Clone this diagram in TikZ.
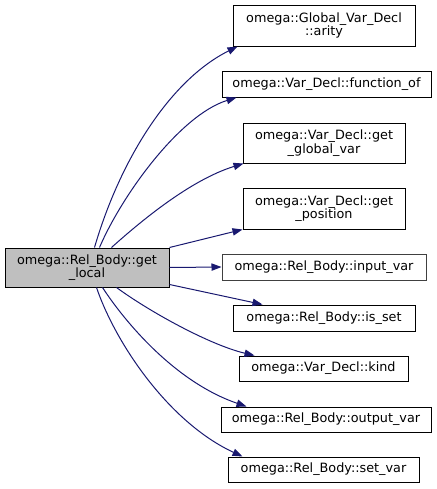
\documentclass[tikz,border=0pt]{standalone}
\usepackage{fontspec}
\setmainfont{DejaVu Sans}
\usetikzlibrary{arrows.meta,calc}
\definecolor{edgeblue}{HTML}{191970}
\definecolor{mainfill}{HTML}{BFBFBF}
\definecolor{darkborder}{HTML}{404040}
\tikzset{
  fnbox/.style={draw=black, line width=0.75pt, fill=white, inner sep=0pt, align=center,
    font=\fontsize{9.6}{10.2}\selectfont},
  mainbox/.style={fnbox, fill=mainfill},
  calledge/.style={draw=edgeblue, line width=0.75pt, -{Triangle[length=7.5pt,width=5.5pt]}}
}
\begin{document}
\begin{tikzpicture}[x=0.75pt,y=-0.75pt]
\useasboundingbox (0,0) rectangle (436,489);
\node[mainbox, minimum width=123pt, minimum height=29.25pt] (main) at (87,267.5) {omega::Rel\_Body::get\\\_local};
\node[fnbox, minimum width=136.5pt, minimum height=30.75pt] (arity) at (324,25.5) {omega::Global\_Var\_Decl\\::arity};
\node[fnbox, minimum width=156.75pt, minimum height=19.5pt] (funcof) at (326.5,84) {omega::Var\_Decl::function\_of};
\node[fnbox, minimum width=121.5pt, minimum height=30pt] (globvar) at (324,143) {omega::Var\_Decl::get\\\_global\_var};
\node[fnbox, minimum width=121.5pt, minimum height=30.75pt] (position) at (324,208.5) {omega::Var\_Decl::get\\\_position};
\node[fnbox, draw=darkborder, minimum width=153pt, minimum height=19.5pt] (inputvar) at (324,267) {omega::Rel\_Body::input\_var};
\node[fnbox, minimum width=136.5pt, minimum height=19.5pt] (isset) at (324,318) {omega::Rel\_Body::is\_set};
\node[fnbox, minimum width=126.75pt, minimum height=18.75pt] (kind) at (323.5,368.5) {omega::Var\_Decl::kind};
\node[fnbox, minimum width=157.5pt, minimum height=18.75pt] (outputvar) at (326,419.5) {omega::Rel\_Body::output\_var};
\node[fnbox, minimum width=143.25pt, minimum height=18.75pt] (setvar) at (323.5,469.5) {omega::Rel\_Body::set\_var};

\draw[calledge] ($(main.north west)+(90,0)$) .. controls (120,160) and (170,80) .. ($(arity.south west)+(5,0)$);
\draw[calledge] ($(main.north west)+(95,0)$) .. controls (122,195) and (180,115) .. ($(funcof.south west)+(15,0)$);
\draw[calledge] ($(main.north west)+(107,0)$) .. controls (140,222) and (190,180) .. ($(globvar.south west)+(1,0)$);
\draw[calledge] (main.north east) -- (position.south west);
\draw[calledge] (main.east) -- (inputvar.west);
\draw[calledge] ($(main.south east)+(0,-3)$) -- ($(isset.north west)+(30,0)$);
\draw[calledge] ($(main.south west)+(112,0)$) .. controls (150,312) and (210,345) .. ($(kind.north west)+(16,0)$);
\draw[calledge] ($(main.south west)+(98,0)$) .. controls (125,322) and (175,382) .. ($(outputvar.north west)+(26,0)$);
\draw[calledge] ($(main.south west)+(92,0)$) .. controls (115,342) and (168,422) .. ($(setvar.north west)+(15,0)$);
\end{tikzpicture}
\end{document}
